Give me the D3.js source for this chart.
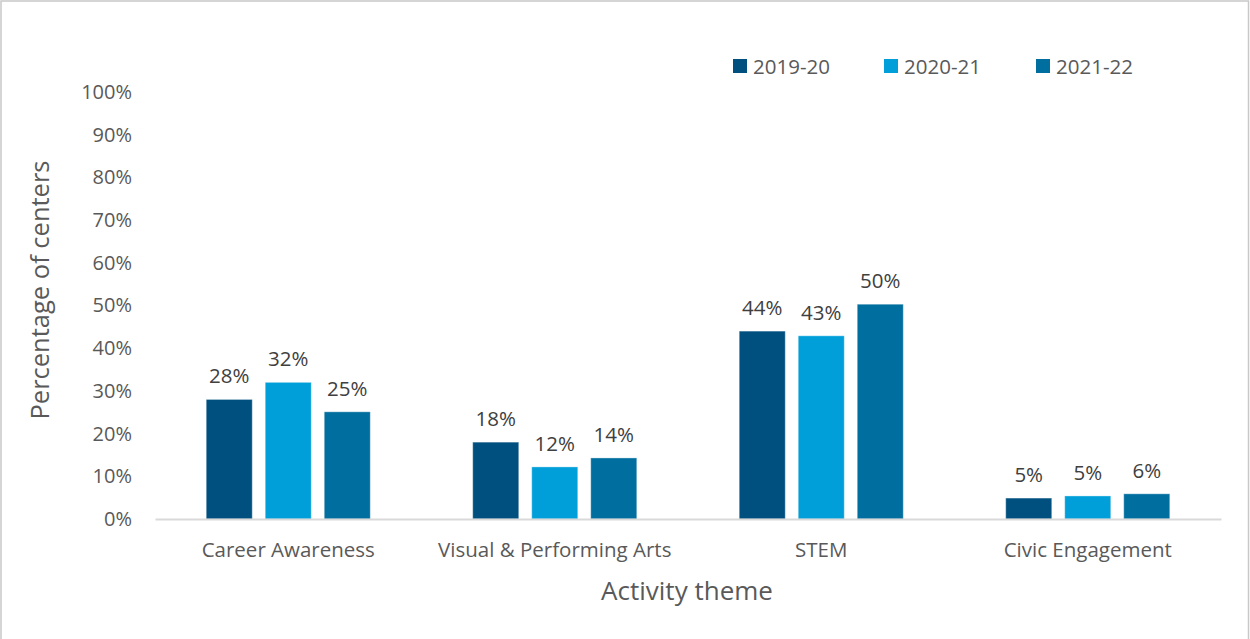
<!DOCTYPE html>
<html>
<head>
<meta charset="utf-8">
<script src="https://cdn.jsdelivr.net/npm/d3@7"></script>
<style>
  html, body { margin: 0; padding: 0; background: #fff; }
  svg { display: block; }
  text { font-family: "Open Sans", "Noto Sans", sans-serif; }
</style>
</head>
<body>
<svg id="chart" width="1250" height="639"></svg>
<script>
// Activity themes along the x axis
const categories = ["Career Awareness", "Visual & Performing Arts", "STEM", "Civic Engagement"];
// School years shown as grouped bars
const seriesNames = ["2019-20", "2020-21", "2021-22"];
// Percentage of centers, one array per school year (same order as categories)
const values2019 = [28, 18, 44, 4.9];
const values2020 = [32, 12.2, 42.9, 5.4];
const values2021 = [25.1, 14.3, 50.3, 5.9];
const seriesValues = [values2019, values2020, values2021];
const yTicks = [0, 10, 20, 30, 40, 50, 60, 70, 80, 90, 100];
const colors = ["#00507f", "#009fd9", "#006e9f"];

const svg = d3.select("#chart");
const W = 1250, H = 639;
const FONT = "'Open Sans', 'Noto Sans', sans-serif";

// Outer frame
svg.append("rect")
  .attr("x", 1).attr("y", 1).attr("width", W - 2.5).attr("height", H + 4)
  .attr("fill", "#fff").attr("stroke", "#c8c8c8").attr("stroke-width", 1.5);

const plot = { left: 155, right: 1221, top: 92, bottom: 519 };

const x0 = d3.scaleBand().domain(categories).range([plot.left, plot.right]).paddingInner(0).paddingOuter(0);
const x1 = d3.scaleBand().domain(seriesNames).range([0, x0.bandwidth()]).paddingInner(0.22).paddingOuter(0.868);
const y = d3.scaleLinear().domain([0, 100]).range([plot.bottom, plot.top]);

// Y axis tick labels
const yAxis = d3.axisLeft(y).tickValues(yTicks).tickFormat(d => d + "%").tickSize(0).tickPadding(0);
const yg = svg.append("g").attr("transform", `translate(${plot.left - 23},0)`).call(yAxis);
yg.select(".domain").remove();
yg.selectAll("text").attr("fill", "#595959").style("font-size", "20px")
  .style("font-family", FONT);

// Bars
const groups = svg.append("g").selectAll("g")
  .data(categories)
  .join("g")
  .attr("transform", d => `translate(${x0(d)},0)`);

groups.selectAll("rect")
  .data((c, ci) => seriesNames.map((s, si) => ({ s, si, v: seriesValues[si][ci] })))
  .join("rect")
  .attr("x", d => x1(d.s))
  .attr("width", x1.bandwidth())
  .attr("y", d => y(d.v))
  .attr("height", d => y(0) - y(d.v))
  .attr("fill", d => colors[d.si])
  .attr("stroke", "rgba(255,255,255,0.35)")
  .attr("stroke-width", 1);

// Value labels
groups.selectAll("text.val")
  .data((c, ci) => seriesNames.map((s, si) => ({ s, si, v: seriesValues[si][ci] })))
  .join("text")
  .attr("class", "val")
  .attr("x", d => x1(d.s) + x1.bandwidth() / 2)
  .attr("y", d => y(d.v) - 16)
  .attr("text-anchor", "middle")
  .attr("fill", "#404040")
  .style("font-size", "20.5px")
  .text(d => Math.round(d.v) + "%");

// X axis baseline and category labels
const xAxis = d3.axisBottom(x0).tickSize(0).tickPadding(23);
const xg = svg.append("g").attr("transform", `translate(0,${plot.bottom})`).call(xAxis);
xg.select(".domain").attr("stroke", "#d9d9d9").attr("stroke-width", 2);
xg.selectAll("text").attr("fill", "#595959").style("font-size", "20.5px")
  .style("font-family", FONT);

// Axis titles
svg.append("text")
  .attr("x", 687).attr("y", 600)
  .attr("text-anchor", "middle").attr("fill", "#595959")
  .style("font-size", "26px").text("Activity theme");
svg.append("text")
  .attr("transform", "translate(49,290) rotate(-90)")
  .attr("text-anchor", "middle").attr("fill", "#595959")
  .style("font-size", "25.5px").text("Percentage of centers");

// Legend
const legendX = [733, 884, 1036];
const legend = svg.append("g").selectAll("g").data(seriesNames).join("g")
  .attr("transform", (d, i) => `translate(${legendX[i]},59)`);
legend.append("rect").attr("width", 14).attr("height", 14).attr("fill", (d, i) => colors[i]);
legend.append("text").attr("x", 20).attr("y", 14.5).attr("fill", "#595959")
  .style("font-size", "20.5px").text(d => d);
</script>
</body>
</html>
